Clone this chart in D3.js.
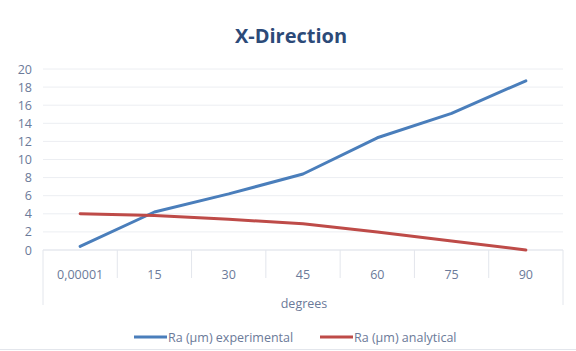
<!DOCTYPE html>
<html><head><meta charset="utf-8">
<script src="https://cdn.jsdelivr.net/npm/d3@7"></script>
<style>body{margin:0;background:#fff;}svg{display:block;font-family:"Open Sans","Liberation Sans",sans-serif;}</style>
</head><body><svg id="c" width="576" height="351"></svg>
<script>
const categories = ["0,00001","15","30","45","60","75","90"];
const experimental = [0.4, 4.2, 6.2, 8.4, 12.4, 15.1, 18.7];
const analytical = [4.0, 3.8, 3.4, 2.9, 2.0, 1.0, 0.0];
const yTicks = [0,2,4,6,8,10,12,14,16,18,20];
const seriesNames = ["Ra (\u00b5m) experimental", "Ra (\u00b5m) analytical"];
const colors = ["#4a7ebb", "#be4b48"];

const svg = d3.select("#c");
const L = 43, R = 563, T = 69, B = 250;
const x = d3.scaleBand().domain(categories).range([L, R]);
const y = d3.scaleLinear().domain([0, 20]).range([B, T]);
const labelColor = "#6b7a99";
const fs = 12.5;

svg.append("rect").attr("width",576).attr("height",351).attr("fill","#fff");

// title
svg.append("text").attr("x", 291).attr("y", 43).attr("text-anchor","middle")
  .attr("font-size", 20).attr("font-weight","bold").attr("fill","#2c4a78").text("X-Direction");

// gridlines
svg.append("g").selectAll("line").data(yTicks).join("line")
  .attr("x1", L).attr("x2", R).attr("y1", d=>y(d)).attr("y2", d=>y(d))
  .attr("stroke", d=> d===0 ? "#d9dde6" : "#eceef2").attr("stroke-width", 1);

// y labels
svg.append("g").selectAll("text").data(yTicks).join("text")
  .attr("x", 32).attr("y", d=>y(d)+4.5).attr("text-anchor","end")
  .attr("font-size", fs).attr("fill", labelColor).text(d=>d);

// category separators
const edges = categories.map(c=>x(c)).concat([R]);
svg.append("g").selectAll("line").data(edges).join("line")
  .attr("x1", d=>d).attr("x2", d=>d).attr("y1", B)
  .attr("y2", (d,i)=> (i===0 || i===edges.length-1) ? 305 : 278)
  .attr("stroke", "#e3e6ec").attr("stroke-width", 1);

// x labels
svg.append("g").selectAll("text").data(categories).join("text")
  .attr("x", d=>x(d)+x.bandwidth()/2).attr("y", 279).attr("text-anchor","middle")
  .attr("font-size", fs).attr("fill", labelColor).text(d=>d);

svg.append("text").attr("x", 304).attr("y", 308).attr("text-anchor","middle")
  .attr("font-size", fs).attr("fill", labelColor).text("degrees");

// lines
const line = d3.line().x((d,i)=>x(categories[i])+x.bandwidth()/2).y(d=>y(d));
[experimental, analytical].forEach((s,k)=>{
  svg.append("path").datum(s).attr("d", line).attr("fill","none")
    .attr("stroke", colors[k]).attr("stroke-width", 3).attr("stroke-linejoin","round").attr("stroke-linecap","round");
});

// legend
const legX = [134, 320];
seriesNames.forEach((n,k)=>{
  svg.append("line").attr("x1", legX[k]).attr("x2", legX[k]+33).attr("y1", 337).attr("y2", 337)
    .attr("stroke", colors[k]).attr("stroke-width", 3);
  svg.append("text").attr("x", legX[k]+34).attr("y", 341.5).attr("font-size", fs).attr("fill", labelColor).text(n);
});

// bottom border
svg.append("line").attr("x1",0).attr("x2",576).attr("y1",349.5).attr("y2",349.5).attr("stroke","#e3e6ec");
</script></body></html>
